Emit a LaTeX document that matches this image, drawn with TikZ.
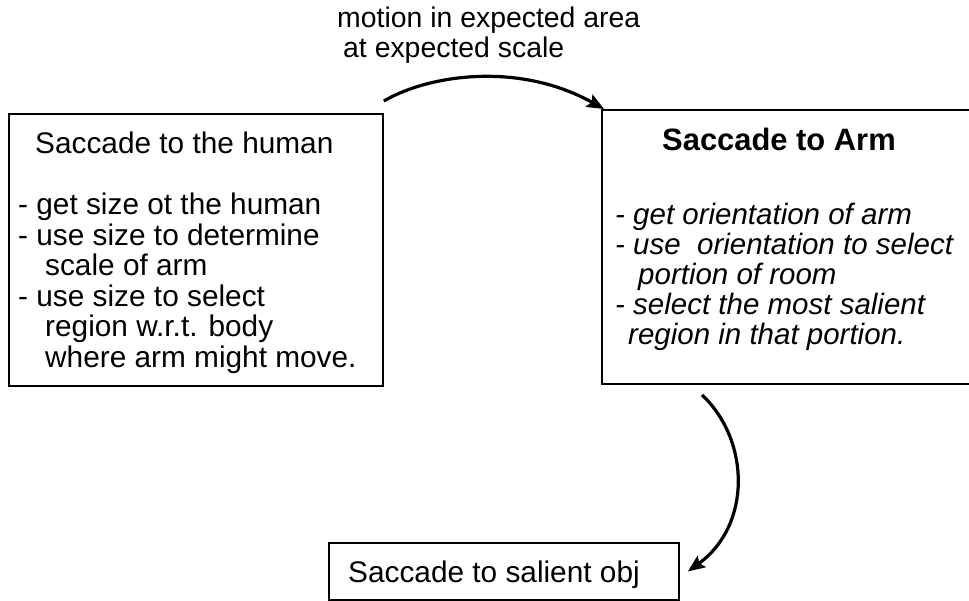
\documentclass[tikz,border=0pt]{standalone}
\usepackage{fontspec}
\setmainfont{Liberation Sans}
\usetikzlibrary{arrows.meta}
\begin{document}
\begin{tikzpicture}[x=1pt,y=-1pt,
  box/.style={draw,line width=1.9pt,inner sep=0pt,anchor=north west},
  txt/.style={inner sep=0pt,anchor=base west,font=\fontsize{29.8}{29.5}\selectfont},
  txtb/.style={inner sep=0pt,anchor=base west,font=\fontsize{29.5}{28}\selectfont},
  lbltxt/.style={inner sep=0pt,anchor=base west,font=\fontsize{28.4}{29.5}\selectfont},
  conn/.style={line width=3.2pt,-{Stealth[length=17pt,width=14pt,inset=3pt]}}]
\useasboundingbox (0,0) rectangle (969,601);
\clip (0,0) rectangle (969,601);
% boxes
\node[box,minimum width=374pt,minimum height=272pt] (box1) at (8,113) {};
\node[box,minimum width=380pt,minimum height=274pt] (box2) at (601,109) {};
\node[box,minimum width=350pt,minimum height=57pt] (box3) at (328,542) {};
% label
\node[lbltxt] (lbl) at (337,28) {\begin{tabular}[t]{@{}l@{}}motion in expected area\\\hspace{6pt}at expected scale\end{tabular}};
% box 1 text
\node[txt] (h1) at (35,154) {Saccade to the human};
\node[txt] (l1) at (18,215) {\begin{tabular}[t]{@{}l@{}}- get size ot the human\\- use size to determine\\\hspace{27pt}scale of arm\\- use size to select\\\hspace{27pt}region w.r.t. body\\\hspace{27pt}where arm might move.\end{tabular}};
% box 2 text
\node[txt,anchor=base,font=\fontsize{30.9}{29.5}\selectfont] (h2) at (779,151) {\bfseries Saccade to Arm};
\node[txtb] (l2) at (615,225) {\itshape\begin{tabular}[t]{@{}l@{}}- get orientation of arm\\- use~ orientation to select\\\hspace{23pt}portion of room\\- select the most salient\\\hspace{13pt}region in that portion.\end{tabular}};
% box 3 text
\node[txt] (h3) at (348,582) {Saccade to salient obj};
% connectors
\draw[conn] ([yshift=12pt]box1.north east) .. controls (430,74) and (520,62) .. ([xshift=3pt]box2.north west);
\draw[conn] ([xshift=101pt,yshift=-10pt]box2.south west) .. controls (750,440) and (752,525) .. ([xshift=8pt]box3.east);
\end{tikzpicture}
\end{document}
